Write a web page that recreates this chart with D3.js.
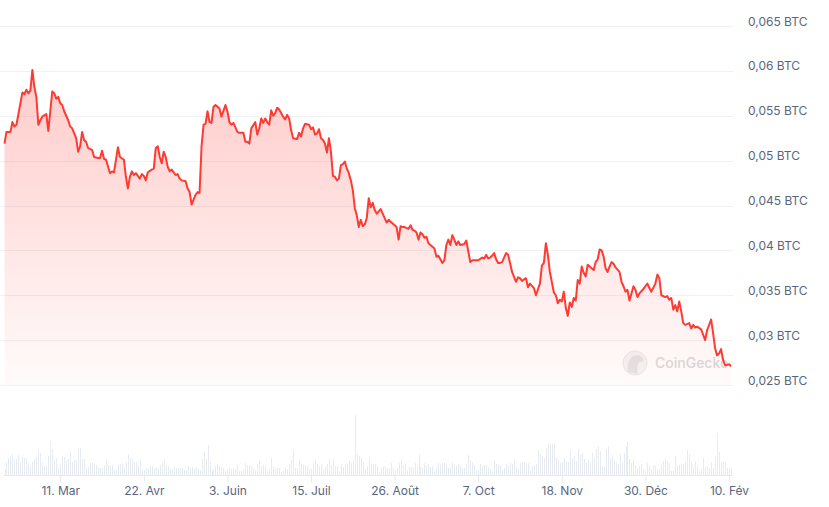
<!DOCTYPE html>
<html>
<head>
<meta charset="utf-8">
<script src="https://cdn.jsdelivr.net/npm/d3@7"></script>
<style>
  html, body { margin: 0; padding: 0; background: #fff; }
  svg { display: block; font-family: Inter, "Noto Sans", sans-serif; }
</style>
</head>
<body>
<script>
// price (BTC), day offsets from 12 Feb 2024
const startDate = Date.UTC(2024, 1, 12)
const priceDays = [0,1,3,4,5,6,8,9,10,11,12,13,14,15,16,17,18,19,21,22,24,25,26,27,28,29,30,32,33,34,36,37,38,39,40,41,42,44,45,47,48,49,50,51,53,54,55,57,58,60,61,62,63,64,65,66,68,69,70,71,72,74,75,76,77,78,79,80,81,82,83,84,86,87,88,89,91,92,93,94,96,97,98,99,100,101,102,103,104,105,106,108,109,111,112,113,114,115,117,118,120,121,122,123,124,126,127,128,129,130,131,132,133,134,135,136,137,138,140,141,142,143,144,145,147,148,149,150,151,153,154,155,156,157,158,159,160,161,162,163,164,165,166,167,168,169,170,171,172,173,174,175,176,177,178,179,180,181,182,183,184,185,186,187,189,190,192,193,194,196,197,198,199,200,201,203,204,205,206,207,208,209,210,211,212,213,215,216,217,218,220,221,222,223,224,225,226,227,228,229,231,232,233,234,235,237,238,240,241,242,243,244,245,246,247,248,249,250,252,253,254,255,257,258,259,260,262,263,264,266,267,269,270,271,272,273,274,276,277,278,279,280,281,282,283,284,285,286,287,288,289,290,291,292,293,294,296,297,298,299,300,301,302,303,304,305,306,307,309,310,311,312,313,314,315,316,317,318,319,321,322,323,324,325,327,328,329,330,332,333,334,335,336,337,338,339,340,341,342,344,345,346,347,348,350,351,352,353,355,356,357,358,359,360,361,362,364,365]
const prices = [0.0519,0.0532,0.0532,0.0543,0.0538,0.0540,0.0564,0.0576,0.0574,0.0579,0.0575,0.0578,0.0601,0.0582,0.0571,0.0540,0.0545,0.0549,0.0552,0.0533,0.0577,0.0575,0.0569,0.0571,0.0564,0.0562,0.0555,0.0545,0.0538,0.0536,0.0525,0.0510,0.0516,0.0532,0.0523,0.0521,0.0514,0.0512,0.0504,0.0503,0.0503,0.0511,0.0502,0.0501,0.0486,0.0488,0.0487,0.0515,0.0504,0.0501,0.0482,0.0469,0.0482,0.0488,0.0484,0.0486,0.0480,0.0485,0.0483,0.0478,0.0487,0.0490,0.0491,0.0514,0.0516,0.0504,0.0497,0.0510,0.0504,0.0493,0.0488,0.0490,0.0484,0.0485,0.0480,0.0478,0.0477,0.0469,0.0465,0.0451,0.0462,0.0465,0.0464,0.0516,0.0540,0.0541,0.0555,0.0543,0.0542,0.0560,0.0562,0.0558,0.0549,0.0562,0.0555,0.0543,0.0540,0.0542,0.0532,0.0531,0.0531,0.0521,0.0521,0.0519,0.0536,0.0543,0.0529,0.0536,0.0547,0.0542,0.0547,0.0543,0.0540,0.0556,0.0550,0.0553,0.0559,0.0557,0.0549,0.0546,0.0551,0.0547,0.0534,0.0525,0.0524,0.0531,0.0527,0.0536,0.0541,0.0540,0.0535,0.0537,0.0529,0.0530,0.0535,0.0525,0.0523,0.0519,0.0509,0.0525,0.0510,0.0483,0.0482,0.0478,0.0480,0.0495,0.0496,0.0499,0.0491,0.0486,0.0478,0.0467,0.0447,0.0439,0.0426,0.0434,0.0427,0.0429,0.0436,0.0458,0.0448,0.0453,0.0445,0.0441,0.0446,0.0441,0.0431,0.0434,0.0432,0.0428,0.0426,0.0412,0.0427,0.0426,0.0426,0.0424,0.0428,0.0423,0.0422,0.0420,0.0412,0.0420,0.0418,0.0414,0.0415,0.0408,0.0404,0.0402,0.0393,0.0394,0.0386,0.0389,0.0406,0.0412,0.0406,0.0417,0.0412,0.0406,0.0410,0.0406,0.0407,0.0411,0.0399,0.0387,0.0389,0.0389,0.0389,0.0392,0.0391,0.0395,0.0391,0.0392,0.0394,0.0397,0.0390,0.0386,0.0386,0.0387,0.0397,0.0395,0.0386,0.0376,0.0365,0.0370,0.0369,0.0366,0.0369,0.0359,0.0363,0.0358,0.0350,0.0363,0.0383,0.0386,0.0408,0.0395,0.0376,0.0353,0.0350,0.0341,0.0345,0.0343,0.0354,0.0336,0.0327,0.0342,0.0337,0.0347,0.0344,0.0367,0.0363,0.0382,0.0375,0.0371,0.0384,0.0382,0.0378,0.0387,0.0390,0.0401,0.0400,0.0393,0.0380,0.0376,0.0382,0.0387,0.0385,0.0381,0.0376,0.0365,0.0360,0.0354,0.0356,0.0344,0.0352,0.0360,0.0356,0.0348,0.0352,0.0357,0.0360,0.0363,0.0358,0.0354,0.0363,0.0373,0.0369,0.0350,0.0348,0.0349,0.0345,0.0347,0.0334,0.0339,0.0332,0.0343,0.0332,0.0319,0.0317,0.0319,0.0313,0.0317,0.0314,0.0315,0.0312,0.0306,0.0300,0.0311,0.0323,0.0308,0.0291,0.0283,0.0285,0.0290,0.0278,0.0272,0.0273,0.0271]

// daily volume, relative units (one value per day from startDate)
const volumes = [19,39,52,57,64,44,47,60,39,54,52,52,37,27,40,49,55,75,67,37,27,30,57,101,79,49,52,22,30,57,54,44,49,72,40,44,45,79,82,49,47,24,24,37,37,37,30,24,20,20,30,47,30,27,30,15,15,30,34,34,24,39,64,52,49,40,40,30,44,16,16,22,22,27,27,22,24,20,30,39,49,30,27,17,17,24,22,22,22,24,14,
  14,27,22,24,22,24,17,14,49,70,47,90,40,12,17,27,32,27,24,22,12,19,22,19,22,19,30,12,12,17,37,30,27,27,22,14,34,42,27,30,30,12,17,52,24,19,22,22,10,12,22,17,34,44,74,22,22,49,34,30,30,27,17,19,37,44,34,27,34,17,24,34,49,30,52,27,27,12,34,24,30,34,42,37,49,180,64,57,52,37,17,27,
  50,34,34,34,27,10,20,24,27,22,22,37,22,14,22,37,47,30,34,14,24,24,20,37,24,64,24,22,37,30,34,24,27,12,20,37,30,37,37,37,22,24,40,34,27,34,30,20,20,34,59,44,40,30,12,14,34,27,30,30,24,17,12,44,32,30,30,14,20,34,27,37,32,47,24,17,37,40,40,37,37,14,27,30,34,74,64,57,52,80,95,
  94,92,97,54,47,37,40,52,42,40,74,50,57,42,77,60,67,47,37,44,40,67,54,79,87,72,27,24,79,87,50,60,44,37,32,64,40,67,87,100,47,37,49,30,22,27,32,19,12,37,27,17,30,27,19,17,30,42,47,42,37,12,12,57,27,30,30,32,40,75,64,40,24,42,30,12,17,52,24,27,22,40,22,54,127,70,40,42,40,22,22,24]

const yTicks = [0.025, 0.03, 0.035, 0.04, 0.045, 0.05, 0.055, 0.06, 0.065]
const xTickDates = ['2024-03-11', '2024-04-22', '2024-06-03', '2024-07-15', '2024-08-26', '2024-10-07', '2024-11-18', '2024-12-30', '2025-02-10']
const xTickLabels = ['11. Mar', '22. Avr', '3. Juin', '15. Juil', '26. Août', '7. Oct', '18. Nov', '30. Déc', '10. Fév']

const width = 829, height = 507
const dayMs = 86400000
const toDate = d => new Date(startDate + d * dayMs)

const priceData = priceDays.map((d, i) => ({date: toDate(d), value: prices[i]}))
const volData = volumes.map((v, i) => ({date: toDate(i), value: v}))

const x = d3.scaleUtc()
  .domain([toDate(0), toDate(365)])
  .range([4.5, 731])
const y = d3.scaleLinear()
  .domain([0.025, 0.065])
  .range([385, 26])
const yVol = d3.scaleLinear()
  .domain([0, 180])
  .range([475, 415])

const svg = d3.select('body').append('svg')
  .attr('width', width)
  .attr('height', height)

// gradient for the area under the line
const grad = svg.append('defs').append('linearGradient')
  .attr('id', 'areaFill')
  .attr('gradientUnits', 'userSpaceOnUse')
  .attr('x1', 0).attr('y1', y(0.06))
  .attr('x2', 0).attr('y2', y(0.025))
grad.append('stop').attr('offset', 0).attr('stop-color', '#ff3a33').attr('stop-opacity', 0.26)
grad.append('stop').attr('offset', 1).attr('stop-color', '#ff3a33').attr('stop-opacity', 0.02)

// horizontal grid lines
svg.append('g')
  .selectAll('line')
  .data(yTicks)
  .enter().append('line')
  .attr('x1', 0)
  .attr('x2', 733)
  .attr('y1', d => Math.round(y(d)) + 0.5)
  .attr('y2', d => Math.round(y(d)) + 0.5)
  .attr('stroke', '#eff2f5')
  .attr('stroke-width', 1)

// y labels on the right
svg.append('g')
  .selectAll('text')
  .data(yTicks)
  .enter().append('text')
  .attr('x', 748)
  .attr('y', d => y(d) - 0.5)
  .attr('font-size', 12)
  .attr('fill', '#58667e')
  .text(d => d3.format('.3~f')(d).replace('.', ',') + ' BTC')

// CoinGecko watermark
const wm = svg.append('g').attr('opacity', 0.9)
wm.append('circle')
  .attr('cx', 635).attr('cy', 363).attr('r', 12)
  .attr('fill', '#f4f4f4')
  .attr('stroke', '#e8e8e8')
wm.append('path')
  .attr('d', 'M628,372 C627,364 629,356 636,355 C641,355 644,358 643,361 C641,362 639,362 638,364 C637,367 637,370 638,374 Z')
  .attr('fill', '#e2e2e2')
wm.append('text')
  .attr('x', 655).attr('y', 367.5)
  .attr('font-size', 14)
  .attr('font-weight', 500)
  .attr('fill', '#d6d6d6')
  .text('CoinGecko')

// area + line
const area = d3.area()
  .x(d => x(d.date))
  .y0(y(0.025))
  .y1(d => y(d.value))
const line = d3.line()
  .x(d => x(d.date))
  .y(d => y(d.value))

svg.append('path')
  .datum(priceData)
  .attr('d', area)
  .attr('fill', 'url(#areaFill)')

svg.append('path')
  .datum(priceData)
  .attr('d', line)
  .attr('fill', 'none')
  .attr('stroke', '#ff3a33')
  .attr('stroke-width', 2)
  .attr('stroke-linejoin', 'round')

// volume bars, snapped to whole pixels so they stay crisp
svg.append('g')
  .attr('shape-rendering', 'crispEdges')
  .selectAll('rect')
  .data(volData)
  .enter().append('rect')
  .attr('x', d => Math.round(x(d.date)))
  .attr('width', 1)
  .attr('y', d => Math.round(yVol(d.value)))
  .attr('height', d => 475 - Math.round(yVol(d.value)))
  .attr('fill', '#e8ebef')

// x axis
const tickDates = xTickDates.map(s => new Date(s + 'T00:00:00Z'))
const xAxis = d3.axisBottom(x)
  .tickValues(tickDates)
  .tickSize(7)
  .tickPadding(4)
  .tickFormat((d, i) => xTickLabels[i])

const gx = svg.append('g')
  .attr('transform', 'translate(0,475.5)')
  .call(xAxis)
gx.select('.domain')
  .attr('d', 'M4,0H733')
  .attr('stroke', '#e6e9ee')
gx.selectAll('.tick line').attr('stroke', '#e6e9ee')
gx.selectAll('.tick text')
  .attr('font-size', 12)
  .attr('font-family', 'Inter, "Noto Sans", sans-serif')
  .attr('fill', '#58667e')
</script>
</body>
</html>
